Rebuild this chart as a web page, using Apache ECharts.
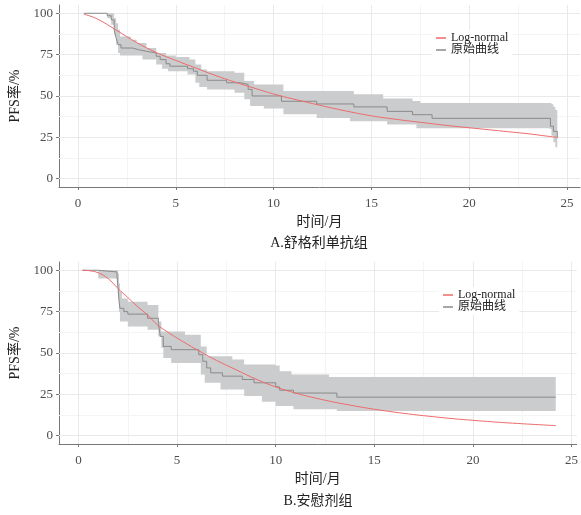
<!DOCTYPE html>
<html><head><meta charset="utf-8">
<script src="https://cdn.jsdelivr.net/npm/echarts@6/dist/echarts.min.js"></script>
<style>html,body{margin:0;padding:0;background:#fff}#c{width:581px;height:515px}</style>
</head><body><div id="c"></div>
<script>
// ---------------- data ----------------
const xTicks = [0, 5, 10, 15, 20, 25];
const xMinor = [2.5, 7.5, 12.5, 17.5, 22.5];
const yTicks = [0, 25, 50, 75, 100];
const yMinor = [12.5, 37.5, 62.5, 87.5];
const xName = '时间/月';
const yName = 'PFS率/%';
const captionA = 'A.舒格利单抗组';
const captionB = 'B.安慰剂组';
const nameFit = 'Log-normal';
const nameKM = '原始曲线';

// Group A: Kaplan-Meier step curve
const kmA_t = [0.3, 1.5, 1.7, 1.85, 1.95, 2.05, 2.2, 2.8, 3.1, 3.5, 4.0, 4.2, 4.5, 4.7, 5.6, 5.9, 6.1, 6.6, 7.6, 8.3, 8.7, 8.9, 10.4, 12.2, 14.1, 15.8, 17.1, 18.1, 24.15, 24.3, 24.5];
const kmA_v = [100, 98.5, 96, 90, 85, 81, 79, 78, 77, 76, 74, 72, 69.5, 68, 66.5, 65, 62.5, 59.5, 58, 57, 54, 50, 46.8, 45.2, 43.4, 40.7, 38.7, 36.5, 31.7, 28.6, 24.6];
// Group A: confidence band
const bandA_t  = [0.3, 1.5, 1.7, 1.85, 1.95, 2.05, 2.15, 2.7, 3.0, 3.3, 3.5, 4.0, 4.3, 4.5, 4.6, 5.0, 5.6, 5.7, 6.0, 6.2, 6.3, 6.6, 8.0, 8.5, 8.8, 9.0, 9.5, 10.5, 12.2, 13.9, 14.1, 15.6, 15.8, 17.1, 17.3, 17.5, 24.1, 24.2, 24.3, 24.4, 24.5];
const bandA_lo = [100, 97, 93, 87, 81, 76, 74.5, 74.5, 74.5, 72, 72, 69, 66.5, 66.5, 65, 65, 63, 63, 58, 55.5, 55.5, 54, 52, 48, 44, 44, 42.5, 39, 36.7, 34.7, 34.7, 34.7, 32.7, 32.7, 30.5, 30.5, 30, 26, 22, 19, 16.5];
const bandA_hi = [100, 100, 100, 97, 94, 90, 86, 84, 82, 82, 79, 76, 76, 74.5, 74.5, 73.5, 73.5, 72, 69, 69, 66, 65, 64, 59, 59, 57, 57, 53, 53, 53, 51, 48.5, 48.5, 47, 47, 45.8, 45.8, 45, 43.5, 41.5, 40];
// Group A: fitted log-normal curve
const lnA_t = [0.3, 1, 2, 3, 4, 5, 6, 7, 8, 9, 10, 11, 12, 13, 14, 15, 16, 17, 18, 19, 20, 21, 22, 23, 24, 24.5];
const lnA_v = [99.5, 96.5, 89.5, 82.3, 76.3, 71.5, 67, 62.5, 58.5, 54.8, 51.2, 48.2, 45.4, 42.7, 40.2, 38, 36.3, 34.8, 33.4, 32, 30.8, 29.6, 28.4, 27.2, 25.7, 25];

// Group B: Kaplan-Meier step curve
const kmB_t = [0.2, 1.0, 1.95, 2.0, 2.05, 2.1, 2.3, 2.5, 3.5, 4.05, 4.15, 4.3, 4.7, 6.1, 6.3, 6.5, 6.7, 7.3, 8.3, 8.9, 10.0, 10.2, 10.9, 13.1, 24.2];
const kmB_v = [100, 99, 97, 90, 82, 77, 75, 73.5, 71, 68, 60, 54, 52, 49, 45, 41, 38, 36, 34, 32, 29.5, 27.5, 25.8, 23.3, 23.3];
// Group B: confidence band
const bandB_t  = [0.2, 1.0, 1.95, 2.0, 2.05, 2.1, 2.2, 2.5, 3.5, 4.05, 4.2, 4.3, 4.7, 5.4, 6.2, 6.4, 6.5, 7.2, 7.8, 8.4, 9.3, 10.0, 10.2, 10.8, 10.9, 12.7, 13.1, 24.2];
const bandB_lo = [100, 95, 90, 83, 75, 69, 69, 66, 64, 60, 53, 47, 44, 44, 37, 32, 32, 28, 28, 24, 20.5, 18, 18, 18, 16, 16, 15, 15];
const bandB_hi = [100, 100, 100, 98, 92, 87, 83, 81, 79, 69, 63, 63, 63, 61, 54, 54, 48, 48, 46, 43, 43, 42.4, 39, 37, 37, 35.5, 35.5, 35.5];
// Group B: fitted log-normal curve
const lnB_t = [0.2, 0.5, 1, 1.5, 2, 2.5, 3, 3.5, 4, 4.5, 5, 6, 7, 8, 9, 10, 11, 12, 13, 14, 15, 16, 17, 18, 19, 20, 21, 22, 23, 24.2];
const lnB_v = [100, 99.8, 98.5, 95, 89, 83.5, 78, 73, 67, 62.8, 59, 52, 45.5, 39.8, 34.2, 29.5, 25.8, 22.8, 20.2, 18, 16, 14.3, 12.8, 11.5, 10.3, 9.3, 8.4, 7.6, 6.9, 6.1];

// ---------------- styles ----------------
const FONT = "'Liberation Serif','Noto Sans CJK SC',serif";
const RED = '#ee6b6b';
const GREY = '#8a8a8a';
const BAND = '#cbcccd';
const AXIS = '#777777';

const zip = (a, b) => a.map((v, i) => [v, b[i]]);

function gridLines() {
  const d = [];
  xMinor.forEach(v => d.push({ xAxis: v, lineStyle: { color: '#f4f4f4', width: 1, type: 'solid' } }));
  yMinor.forEach(v => d.push({ yAxis: v, lineStyle: { color: '#f4f4f4', width: 1, type: 'solid' } }));
  xTicks.forEach(v => d.push({ xAxis: v, lineStyle: { color: '#e9e9e9', width: 1, type: 'solid' } }));
  yTicks.forEach(v => d.push({ yAxis: v, lineStyle: { color: '#e9e9e9', width: 1, type: 'solid' } }));
  return d;
}

function bandSeries(idx, ts, lo, hi) {
  return {
    type: 'custom', xAxisIndex: idx, yAxisIndex: idx, z: 2, silent: true, clip: true,
    data: [[ts[0], hi[0]]],
    renderItem: function (params, api) {
      const pts = [];
      for (let i = 0; i < ts.length; i++) {
        const tn = i < ts.length - 1 ? ts[i + 1] : ts[i];
        pts.push(api.coord([ts[i], hi[i]]));
        pts.push(api.coord([tn, hi[i]]));
      }
      for (let i = ts.length - 1; i >= 0; i--) {
        const tn = i < ts.length - 1 ? ts[i + 1] : ts[i];
        pts.push(api.coord([tn, lo[i]]));
        pts.push(api.coord([ts[i], lo[i]]));
      }
      return { type: 'polygon', shape: { points: pts }, style: { fill: BAND } };
    }
  };
}

function xAxisCfg(idx, min, max) {
  return {
    type: 'value', gridIndex: idx, min: min, max: max,
    name: xName, nameLocation: 'middle', nameGap: 28,
    nameTextStyle: { fontFamily: FONT, fontSize: 14, color: '#222' },
    axisLine: { show: true, onZero: false, lineStyle: { color: AXIS, width: 1 } },
    axisTick: { show: true, length: 3, customValues: xTicks, lineStyle: { color: AXIS } },
    axisLabel: { customValues: xTicks, margin: 10, fontFamily: FONT, fontSize: 13, color: '#4d4d4d' },
    splitLine: { show: false }
  };
}
function yAxisCfg(idx) {
  return {
    type: 'value', gridIndex: idx, min: -5, max: 105,
    name: yName, nameLocation: 'middle', nameGap: 37, nameRotate: 90,
    nameTextStyle: { fontFamily: FONT, fontSize: 14, color: '#222' },
    axisLine: { show: true, onZero: false, lineStyle: { color: AXIS, width: 1 } },
    axisTick: { show: true, length: 3, customValues: yTicks, lineStyle: { color: AXIS } },
    axisLabel: { customValues: yTicks, margin: 6, fontFamily: FONT, fontSize: 13, color: '#4d4d4d' },
    splitLine: { show: false }
  };
}

function legendCfg(left, top) {
  return {
    left: left, top: top, orient: 'vertical', itemGap: 0,
    backgroundColor: '#fff', padding: [2, 4],
    icon: 'rect', itemWidth: 10, itemHeight: 1.5,
    textStyle: { fontFamily: FONT, fontSize: 12, color: '#222', lineHeight: 12 },
    data: [{ name: nameFit }, { name: nameKM }]
  };
}

const chart = echarts.init(document.getElementById('c'), null, { renderer: 'canvas' });
chart.setOption({
  animation: false,
  backgroundColor: '#fff',
  grid: [
    { left: 58, top: 5, width: 522, height: 182 },
    { left: 58, top: 262, width: 520, height: 182 }
  ],
  xAxis: [xAxisCfg(0, -0.97, 25.66), xAxisCfg(1, -0.99, 25.26)],
  yAxis: [yAxisCfg(0), yAxisCfg(1)],
  legend: [legendCfg(432, 30), legendCfg(439, 287)],
  graphic: [
    { type: 'text', x: 319, y: 243, style: { text: captionA, align: 'center', verticalAlign: 'middle', fontFamily: FONT, fontSize: 14, fill: '#222' } },
    { type: 'text', x: 318, y: 501, style: { text: captionB, align: 'center', verticalAlign: 'middle', fontFamily: FONT, fontSize: 14, fill: '#222' } }
  ],
  series: [
    { type: 'line', xAxisIndex: 0, yAxisIndex: 0, data: [], silent: true, z: 1,
      markLine: { silent: true, symbol: 'none', z: 1, label: { show: false }, animation: false, data: gridLines() } },
    { type: 'line', xAxisIndex: 1, yAxisIndex: 1, data: [], silent: true, z: 1,
      markLine: { silent: true, symbol: 'none', z: 1, label: { show: false }, animation: false, data: gridLines() } },
    bandSeries(0, bandA_t, bandA_lo, bandA_hi),
    bandSeries(1, bandB_t, bandB_lo, bandB_hi),
    { name: nameKM, type: 'line', xAxisIndex: 0, yAxisIndex: 0, step: 'end', showSymbol: false, z: 3,
      color: GREY, lineStyle: { color: GREY, width: 1 }, data: zip(kmA_t, kmA_v) },
    { name: nameKM, type: 'line', xAxisIndex: 1, yAxisIndex: 1, step: 'end', showSymbol: false, z: 3,
      color: GREY, lineStyle: { color: GREY, width: 1 }, data: zip(kmB_t, kmB_v) },
    { name: nameFit, type: 'line', xAxisIndex: 0, yAxisIndex: 0, smooth: 0.4, showSymbol: false, z: 4,
      color: RED, lineStyle: { color: RED, width: 1 }, data: zip(lnA_t, lnA_v) },
    { name: nameFit, type: 'line', xAxisIndex: 1, yAxisIndex: 1, smooth: 0.4, showSymbol: false, z: 4,
      color: RED, lineStyle: { color: RED, width: 1 }, data: zip(lnB_t, lnB_v) }
  ]
});
</script>
</body></html>
